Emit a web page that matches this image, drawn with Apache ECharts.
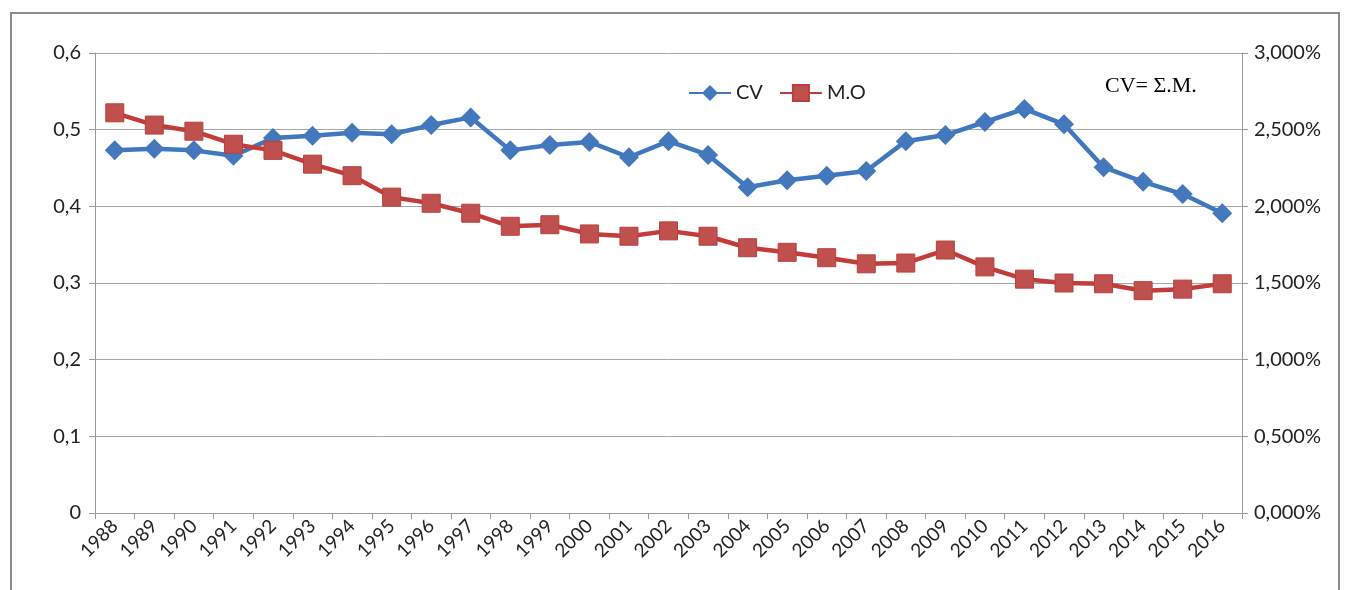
<!DOCTYPE html>
<html>
<head>
<meta charset="utf-8">
<script src="https://cdn.jsdelivr.net/npm/echarts@6/dist/echarts.min.js"></script>
<style>
  html, body { margin: 0; padding: 0; background: #fff; }
  #frame { position: absolute; left: 10px; top: 12px; width: 1330px; height: 590px; border: 2px solid #8c8c8c; box-sizing: border-box; }
  #chart { position: absolute; left: 0; top: 0; width: 1351px; height: 590px; }
</style>
</head>
<body>
<div id="frame"></div>
<div id="chart"></div>
<script>
const years = ['1988','1989','1990','1991','1992','1993','1994','1995','1996','1997',
  '1998','1999','2000','2001','2002','2003','2004','2005','2006','2007',
  '2008','2009','2010','2011','2012','2013','2014','2015','2016']

// CV, left axis
const cv = [0.473, 0.475, 0.473, 0.466, 0.489, 0.492, 0.496, 0.494, 0.506, 0.516,
  0.473, 0.480, 0.484, 0.464, 0.485, 0.467, 0.425, 0.434, 0.440, 0.446,
  0.485, 0.493, 0.510, 0.527, 0.507, 0.451, 0.432, 0.416, 0.391]

// M.O, right axis (percent)
const mo = [2.61, 2.53, 2.49, 2.405, 2.365, 2.275, 2.20, 2.06, 2.02, 1.955,
  1.87, 1.88, 1.82, 1.805, 1.84, 1.805, 1.73, 1.70, 1.665, 1.625,
  1.63, 1.715, 1.605, 1.525, 1.50, 1.495, 1.45, 1.46, 1.495]

const font = 'Lato, "Open Sans", sans-serif'
const axisGray = '#9a9a9a'

const chart = echarts.init(document.getElementById('chart'))
chart.setOption({
  animation: false,
  grid: { left: 95, right: 109, top: 53, bottom: 77 },
  legend: {
    left: 683, top: 78,
    itemWidth: 42, itemHeight: 20, itemGap: 16,
    textStyle: { fontFamily: font, fontSize: 20, color: '#222' },
    data: ['CV', 'M.O']
  },
  graphic: [{
    type: 'text', left: 1105, top: 75,
    style: { text: 'CV= Σ.M.', fontFamily: '"Liberation Serif", serif', fontSize: 22, fill: '#000' }
  }],
  xAxis: {
    type: 'category',
    data: years,
    boundaryGap: true,
    axisLine: { lineStyle: { color: axisGray } },
    axisTick: { show: true, alignWithLabel: false, length: 6, lineStyle: { color: axisGray } },
    axisLabel: { rotate: 45, interval: 0, fontFamily: font, fontSize: 19, color: '#222', margin: 10 }
  },
  yAxis: [{
    type: 'value', min: 0, max: 0.6, interval: 0.1,
    axisLine: { show: true, lineStyle: { color: axisGray } },
    axisTick: { show: true, length: 6, lineStyle: { color: axisGray } },
    splitLine: { lineStyle: { color: '#a6a6a6', width: 1 } },
    axisLabel: {
      fontFamily: font, fontSize: 20, color: '#222', margin: 14,
      formatter: v => v === 0 ? '0' : v.toFixed(1).replace('.', ',')
    }
  }, {
    type: 'value', min: 0, max: 3, interval: 0.5, position: 'right',
    axisLine: { show: true, lineStyle: { color: axisGray } },
    axisTick: { show: true, length: 6, lineStyle: { color: axisGray } },
    splitLine: { show: false },
    axisLabel: {
      fontFamily: font, fontSize: 20, color: '#222', margin: 12,
      formatter: v => v.toFixed(3).replace('.', ',') + '%'
    }
  }],
  series: [{
    name: 'CV',
    type: 'line',
    yAxisIndex: 0,
    data: cv,
    symbol: 'diamond',
    symbolSize: 20,
    lineStyle: { color: '#4078c0', width: 4.5 },
    itemStyle: { color: '#4478bd' }
  }, {
    name: 'M.O',
    type: 'line',
    yAxisIndex: 1,
    data: mo,
    symbol: 'rect',
    symbolSize: 18,
    lineStyle: { color: '#c43c3a', width: 4.5 },
    itemStyle: { color: '#c0504d', borderColor: '#b8403d', borderWidth: 1 }
  }]
})
</script>
</body>
</html>
